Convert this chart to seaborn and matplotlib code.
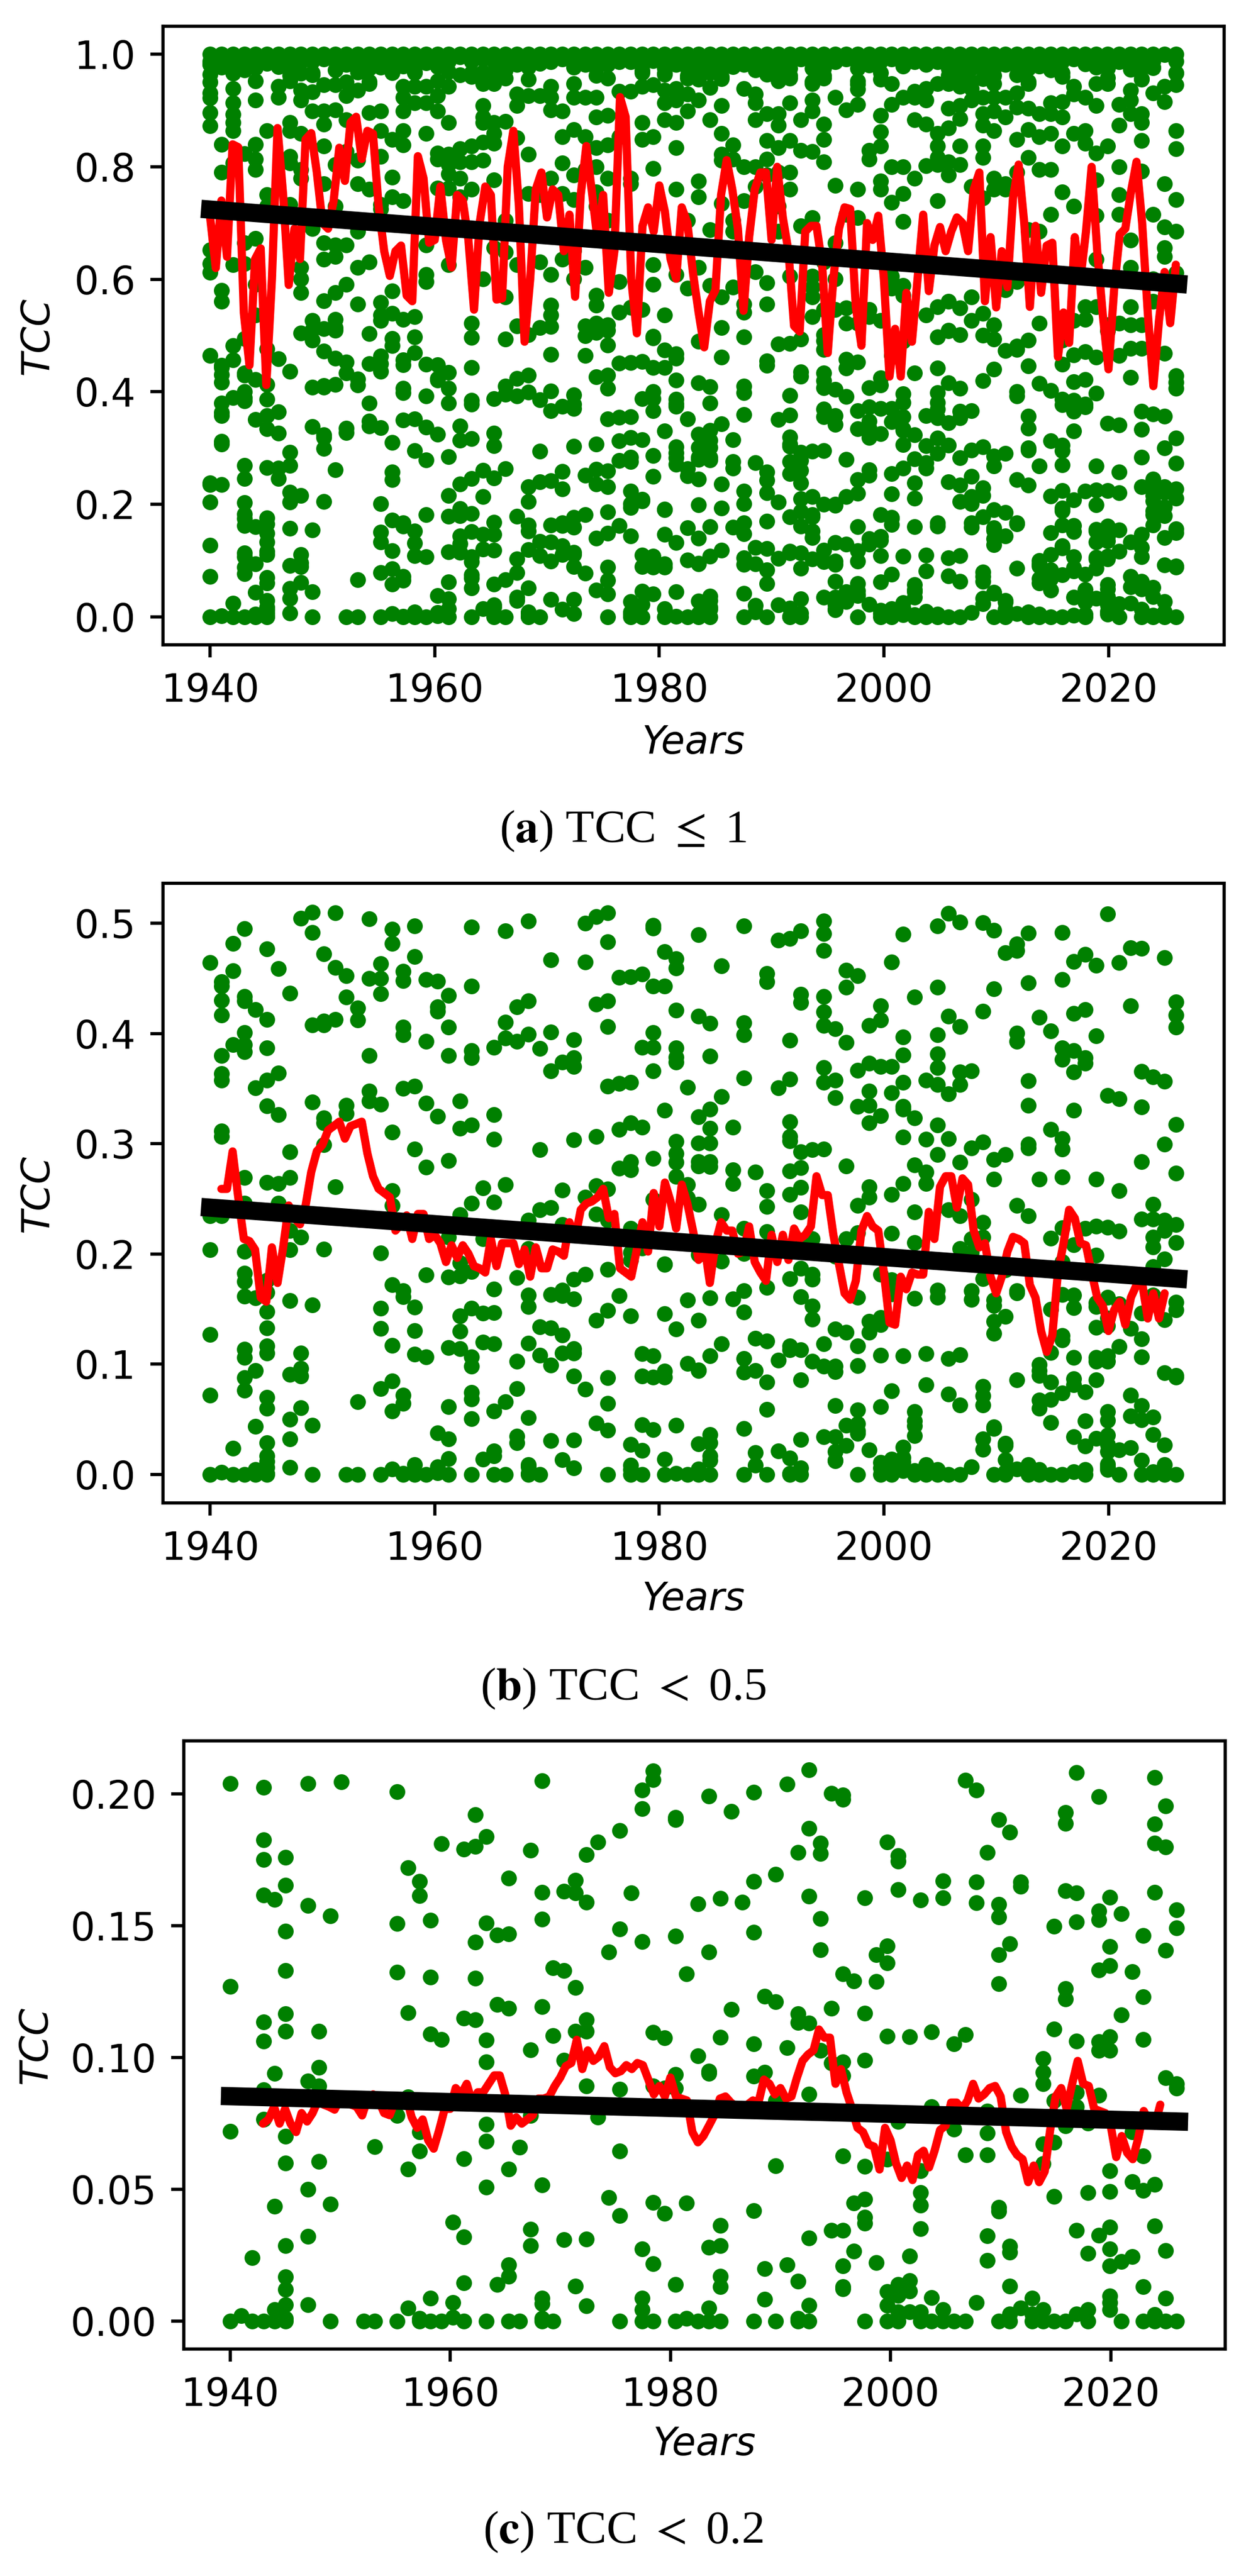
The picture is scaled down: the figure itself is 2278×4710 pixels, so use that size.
#!/usr/bin/env python3
"""
TCC scatter, smoothed curve and trend for three cloud cover ranges.
"""

import matplotlib

matplotlib.use("Agg")
import matplotlib.pyplot as plt
import numpy as np
import pandas as pd
import seaborn as sns

# one inner list per year column, 86 columns from 1940 to 2026
COLUMN_YEARS = np.linspace(1940, 2026, 86)

# values below about 0.21
LOW_TCC = [
    [.204, .127, .072, 0], [.002], [.024, 0],
    [.2025, .1825, .175, .1616, .1135, .1063, .0878, .0765, 0],
    [.160, .094, .0435, .0043, 0],
    [.176, .1654, .148, .133, .1165, .110, .070, .060, .0286, .0168, .012, .0062, .001, 0],
    [], [.204, .1576, .091, .050, .0322, .0063], [.110, .0963, .0892, .0606],
    [.1538, .0444, 0], [.2046], [], [0], [.0662, 0], [],
    [.2008, .1508, .1324, .078, 0], [.172, .117, .085, .0576, .005],
    [.1667, .1614, .0717, .0646, .001, 0], [.152, .1305, .1089, .0087, 0],
    [.181, .1068, 0], [.0375, .007, .0014], [.179, .115, .0616, .032, .0146, 0],
    [.192, .180, .1437, .130, .1143],
    [.1838, .151, .1067, .0983, .0746, .0683, .0508, 0], [.1464, .120, .0138],
    [.168, .1468, .1186, .0576, .0214, .017, 0], [.0659, 0],
    [.1786, .1029, .078, .0348, .0286],
    [.205, .1627, .1524, .1192, .0516, .0087, .0067, .001, 0], [.134, .1083, 0],
    [.163, .133, .099, .0308], [.1673, .1624, .1265, .110, .0132],
    [.177, .159, .1143, .110, .0892, .031, .0057], [.1817, .0773], [.140, .0468],
    [.186, .1487, .088, .0644, .04, 0], [.1624],
    [.2014, .1944, .144, .0273, .0086, .0043, 0],
    [.2086, .2054, .1095, .0892, .0451, .0217, 0], [.1075, .0884, .0408],
    [.1911, .1903, .146, .0935, .0884, .0138, 0], [.1317, .0448, .001],
    [.1583, .1006, 0], [.1992, .140, .0948, .094, .028, .005, 0],
    [.1603, .1076, .0363, .0286, .017, .013, 0], [.1933, .1183], [.159],
    [.2005, .1667, .1475, .1051, .0929, .0419, 0], [.1233, .0943, .0198, .0083],
    [.1695, .1211, .0836, .059, 0], [.2038, .1038, .0213],
    [.1778, .1165, .1133, .0151, .001, 0],
    [.2092, .187, .1611, .113, .086, .0316, .006, 0],
    [.1813, .1773, .1527, .1408, .1027], [.2002, .1186, .098, .0344],
    [.1995, .198, .1317, .0984, .0932, .0627, .0344, .021, .013, .0122],
    [.129, .0448, .0265], [.1605, .1168, .0989, .0586, .0463, .0395, .0371, 0],
    [.139, .1289, .0221], [.1817, .1422, .1359, .1081, .0614, .0111, .0059, 0],
    [.1765, .1744, .1637, .0757, .0138, .0098, .0035, 0],
    [.1078, .0246, .0154, .0114, .0035],
    [.1598, .0571, .0487, .044, .0351, .0035, 0], [.1098, .0813, .009, 0],
    [.167, .1606, .0043, 0], [.1051, .0729, 0], [.2051, .1086, .063, 0],
    [.2014, .1665, .1587, .007], [.1778, .0797, .0713, .063, .0324, .023],
    [.1902, .1581, .1532, .139, .1279, .0432, .0416, 0],
    [.1854, .1432, .0284, .0262, .0133, .0027, 0], [.1665, .1649, .0857, .005],
    [.0087, .0027, 0], [.0995, .0944, .09, .0673, .0598, .0043, 0],
    [.1497, .1108, .0836, .0678, .0473, 0],
    [.1929, .1887, .1633, .1262, .1222, .0741, 0],
    [.2081, .1625, .1514, .1063, .0868, .0813, .0344, .0027],
    [.075, .0487, .0257, .0043, 0],
    [.1989, .1556, .1522, .1332, .1059, .1027, .0857, .0325],
    [.1608, .1421, .1348, .1078, .1027, .0571, .0492, .0357, .0273, .021, .0095, .0071, .0043],
    [.1546, .1162, .0225, 0], [.1325, .0717, .0529, .0244],
    [.1463, .123, .1068, .0627, .0495, .013, 0],
    [.2062, .1886, .1814, .1627, .0519, .036, .0024, 0],
    [.1954, .1798, .1406, .0922, .0267, .0087, 0], [.156, .1492, .09, .0884, 0],
]

# values from about 0.21 to 0.51
MID_TCC = [
    [.4643, .238, .2345],
    [.4469, .443, .430, .4165, .380, .3634, .3577, .3115, .3065, .2345],
    [.4818, .457, .390], [.495, .4336, .4298, .4006, .390, .3835, .2693, .2458],
    [.4215, .3505], [.4765, .4127, .387, .3577, .3342, .2648],
    [.4586, .3642, .3262, .264, .2458], [.4366, .2925, .2693, .221],
    [.5045, .2155], [.5099, .4917, .4078, .338],
    [.4723, .411, .4078, .3236, .319, .299], [.5095, .460, .4127, .261],
    [.4526, .4329, .335, .3274], [.423, .412], [.5038, .450, .380, .3475, .3388],
    [.4632, .450, .436, .3357], [.4943, .4818, .3103, .2572, .244],
    [.4564, .448, .4059, .3987, .350], [.4973, .4696, .352, .295],
    [.4488, .3926, .3369, .2788], [.4476, .424, .4203, .3247],
    [.4347, .4059, .380, .2845, .2155], [.3388, .3141, .2356],
    [.4966, .4431, .3843, .3782, .3168, .2458], [.2599, .2136],
    [.3873, .3266, .3039, .247], [.4932, .4101, .3957, .2629], [.4241, .393],
    [.5019, .4298, .3995, .2307], [.3862, .2944, .2401],
    [.4666, .4014, .3661, .242], [.374, .258, .2268],
    [.3942, .3778, .3699, .3035], [.50, .4647, .2515],
    [.5057, .4268, .3065, .2618, .2363], [.5095, .4829, .4298, .4063, .352, .2591, .2307],
    [.4507, .3547, .313, .278], [.4514, .3558, .3187, .2838, .2762, .223],
    [.4537, .3873, .3149], [.4981, .4954, .4431, .4006, .3873, .3661, .2868, .2496],
    [.4742, .4431, .3304],
    [.4677, .4592, .4211, .3869, .3786, .374, .3023, .2913, .283, .2705],
    [.3513, .2629, .2508], [.4897, .4158, .3244, .3008, .2838, .28, .2451],
    [.409, .3797, .3312, .3141, .3008, .2838, .2792], [.4613, .3426, .2356],
    [.3149, .2762, .2637], [.4973, .4097, .3987, .3596, .2231], [.2743],
    [.4545, .4469, .2572, .2428, .22], [.4848, .3509],
    [.486, .3938, .3585, .3198, .3065, .3027, .2754, .2542],
    [.4932, .4355, .4279, .2925, .2781, .2602, .2382], [.2944, .2136],
    [.5019, .4905, .4753, .4336, .4196, .4071, .3691, .3558, .2951],
    [.4044, .3577, .3418], [.4575, .442, .3919, .28, .2136],
    [.4526, .3665, .3338, .2439, .2193], [.4071, .3729, .3479, .335, .3187, .261, .2515],
    [.4249, .4124, .3699, .3255], [.4647, .3699, .3464, .2542, .2185],
    [.4901, .3968, .3805, .3558, .3338, .3312, .3058, .2637],
    [.4329, .3236, .2807, .2382, .2105], [.3577, .3039, .2743, .2637],
    [.4977, .442, .3987, .3813, .3691, .3539, .3172, .2902],
    [.5087, .4158, .3452, .3046, .2401], [.5011, .4063, .3653, .3539, .283, .2344],
    [.3661, .2963, .2496, .2136], [.5004, .42, .3016, .2288, .2155],
    [.4936, .4404, .2857, .2678], [.4731, .2902], [.481, .4753, .4002, .393, .2439],
    [.4913, .4458, .357, .335, .2997, .2963, .2344], [.4146, .2678],
    [.4025, .313, .2143], [.4917, .4488, .387, .3767, .3046, .2951, .2697, .2238],
    [.4651, .418, .3843, .3653, .3304], [.4715, .4218, .3778, .3729, .2231],
    [.462, .3976, .2678, .225], [.5083, .3437, .2242], [.4643, .3407, .2572, .2208],
    [.4776, .4253], [.4772, .3657, .3331, .2838, .2314], [.3604, .2451, .2318, .2155],
    [.4685, .3566, .2997, .2307, .2212],
    [.4287, .4165, .4059, .3175, .2731, .2269, .2105],
]

# values above about 0.51
HIGH_TCC = [
    [1.0, .983, .964, .951, .931, .923, .896, .873, .652, .628, .612],
    [1.0, .99, .84, .79, .58, .561],
    [1.0, .985, .966, .939, .914, .893, .879, .864, .807, .626],
    [1.0, .983, .823, .665, .628],
    [1.0, .976, .953, .919, .84, .814, .795, .673, .591, .536],
    [1.0, .985, .864, .75, .73], [1.0, .978, .943, .924],
    [1.0, .981, .953, .879, .864, .819, .807, .733],
    [1.0, .966, .936, .919, .859, .795, .78, .621, .601, .576],
    [1.0, .963, .933, .899, .69, .527],
    [1.0, .946, .899, .876, .837, .77, .665, .636, .562, .512],
    [1.0, .946, .901, .804, .73, .661, .641, .576, .529, .514],
    [1.0, .951, .926, .884, .827, .661, .591],
    [1.0, .968, .936, .812, .77, .685, .621, .556],
    [1.0, .948, .896, .76, .631],
    [1.0, .899, .864, .819, .733, .725, .559, .536, .527],
    [1.0, .978, .849, .782, .747, .579, .539],
    [1.0, .943, .924, .899, .864, .839, .74, .529],
    [1.0, .968, .943, .914, .534],
    [1.0, .985, .943, .914, .859, .661, .608, .596],
    [1.0, .978, .953, .926, .899, .824, .814, .762],
    [1.0, .943, .879, .822, .804, .787, .762, .626],
    [1.0, .963, .832, .809, .78, .747],
    [1.0, .961, .837, .809, .76, .522],
    [1.0, .968, .948, .909, .889, .879, .844, .812, .601],
    [1.0, .948, .879, .859, .842, .777, .656],
    [1.0, .958, .881, .705, .648, .569],
    [1.0, .929, .909, .852, .626, .517],
    [1.0, .956, .926, .822, .752],
    [1.0, .926, .75, .631, .514],
    [1.0, .943, .924, .901, .78, .608, .554, .536, .516],
    [1.0, .899, .854, .807, .752, .636],
    [1.0, .948, .924, .866, .785, .742, .651, .601],
    [1.0, .924, .854, .795, .621, .517],
    [1.0, .924, .889, .834, .8, .755, .73, .571, .554, .522],
    [1.0, .958, .891, .839, .78, .705, .519],
    [1.0, .934, .854, .596, .541],
    [1.0, .934, .78, .77, .55],
    [1.0, .971, .943, .879, .849, .546],
    [1.0, .946, .854, .797, .626, .591],
    [1.0, .966, .936, .914, .884, .536],
    [1.0, .939, .919, .879, .834, .76, .608],
    [1.0, .958, .929, .899, .705, .584],
    [1.0, .956, .919, .775, .747, .621],
    [1.0, .941, .884, .688, .589],
    [1.0, .961, .909, .859, .822, .812, .735, .569, .514],
    [1.0, .978, .839, .814, .705, .685, .586],
    [1.0, .939, .8, .74, .556, .541],
    [1.0, .929, .914, .884, .8, .765, .613],
    [1.0, .968, .894, .847, .814, .785, .594, .556],
    [1.0, .953, .894, .874, .834, .79, .73, .685],
    [1.0, .958, .914, .847, .79, .76, .606],
    [1.0, .884, .829, .695],
    [1.0, .948, .919, .899, .827, .71, .606, .586, .569, .534],
    [1.0, .958, .876, .849, .809, .631, .546],
    [1.0, .924, .767, .665, .601, .546],
    [1.0, .901, .715, .549, .522],
    [1.0, .953, .938, .911, .76, .71, .522],
    [1.0, .981, .829, .814, .546, .534],
    [1.0, .956, .891, .862, .837, .775, .76, .527],
    [1.0, .948, .911, .8, .737, .606, .584],
    [1.0, .924, .8, .752, .703, .589, .571],
    [1.0, .934, .924, .884, .78],
    [1.0, .939, .919, .876, .802, .536],
    [1.0, .948, .859, .837, .817, .804, .74, .551],
    [1.0, .948, .904, .869, .809, .785, .561, .509],
    [1.0, .943, .909, .886, .837, .804, .549],
    [1.0, .939, .919, .765, .569, .527],
    [1.0, .924, .894, .874, .837, .817, .745, .539],
    [1.0, .948, .924, .899, .864, .78, .76, .519],
    [1.0, .924, .889, .77, .76, .581],
    [1.0, .963, .931, .906, .849, .79, .596],
    [1.0, .948, .904, .866, .817, .688],
    [1.0, .894, .854, .795, .685, .522],
    [1.0, .914, .894, .859, .795, .715],
    [1.0, .961, .916, .889, .837, .755],
    [1.0, .943, .929, .859, .73, .527],
    [1.0, .983, .924, .864, .842, .551, .529],
    [1.0, .948, .909, .824, .777, .713, .636, .551],
    [1.0, .948, .837, .519],
    [1.0, .911, .874, .8, .75, .715, .522],
    [1.0, .973, .936, .919, .894, .67, .621, .551, .519],
    [1.0, .956, .894, .879, .847, .792, .519],
    [1.0, .976, .931, .715, .601, .561],
    [1.0, .943, .916, .77, .693, .656, .641],
    [1.0, .966, .946, .864, .832, .742, .685, .611],
]

# solid band just under 1.0 in the top panel, lower edge differs per column
TOP_BAND_TCC = [
    [.988, .982], [.988, .977], [.988, .978], [.988, .972], [.988, .977], [.988, .984],
    [.988, .982], [.988, .975, .962], [.987], [.988, .967], [.992], [.988, .972],
    [.988, .982], [.988, .984], [.988, .975, .952], [.988, .977], [.988, .967], [.988, .979],
    [.988, .967], [.992], [.988, .984], [.988, .969], [.996], [.988, .967],
    [.992], [.988, .967], [.988, .972], [.988, .982], [.988, .977], [.988, .984],
    [.987], [.992], [.988, .977], [.988, .982], [.988, .975, .962], [.988, .982],
    [.987], [.987], [.988, .967], [.989], [.988, .975, .964], [.988, .982],
    [.988, .975, .962], [.988, .975, .959], [.988, .967], [.988, .975, .957], [.992], [.988, .982],
    [.988, .972], [.988, .975, .964], [.988, .975, .957], [.988, .975, .962], [.992], [.988, .975, .952],
    [.988, .975, .962], [.987], [.992], [.988, .975, .947], [.989], [.988, .967],
    [.992], [.988, .979], [.987], [.988, .982], [.987], [.988, .975, .962],
    [.988, .975, .962], [.988, .975, .952], [.988, .975, .957], [.988, .975, .962], [.988, .982], [.988, .979],
    [.988, .975, .952], [.988, .979], [.988, .972], [.988, .967], [.992], [.994],
    [.988, .977], [.988, .975, .959], [.987], [.988, .979], [.988, .975, .957], [.988, .977],
    [.999], [.988, .967],
]

# smoothed curves, read every half year
SMOOTH_A_START = 1940.0
SMOOTH_A = [
    .71, .62, .74, .64, .84, .835, .54, .447, .636, .655, .412, .60, .869, .75, .59, .69,
    .636, .849, .86, .79, .70, .69, .74, .834, .775, .879, .889, .814, .864, .859, .73, .65,
    .606, .65, .66, .571, .561, .819, .78, .665, .67, .765, .67, .621, .75, .74, .67, .546,
    .70, .765, .75, .564, .566, .80, .864, .73, .489, .60, .76, .79, .71, .76, .75, .65,
    .715, .569, .75, .837, .755, .67, .75, .576, .65, .924, .889, .601, .504, .695, .728, .685,
    .767, .72, .636, .601, .728, .70, .611, .541, .479, .561, .581, .75, .812, .76, .69, .544,
    .675, .76, .79, .79, .67, .80, .71, .65, .517, .507, .685, .695, .695, .626, .469, .601,
    .69, .728, .725, .551, .482, .70, .67, .713, .601, .427, .512, .427, .576, .489, .601, .715,
    .579, .66, .693, .65, .685, .71, .70, .65, .76, .79, .561, .675, .55, .65, .586, .745,
    .804, .70, .551, .695, .576, .66, .665, .462, .541, .487, .675, .60, .685, .80, .65, .536,
    .44, .581, .68, .69, .755, .809, .70, .541, .41, .527, .613, .522, .626,
]
SMOOTH_B_START = 1941.0
SMOOTH_B = [
    .259, .259, .293, .2515, .2136, .2117, .204, .1605, .1567, .206, .1737, .206, .244, .2325,
    .2269, .244, .2743, .2932, .299, .3122, .316, .32, .3046, .316, .3179, .32, .2913, .2705,
    .2591, .2553, .2515, .2212, .2269, .235, .2136, .2363, .2363, .2136, .2174, .2098, .1927,
    .2079, .1965, .2079, .2003, .1889, .187, .1832, .2136, .1889, .2098, .2098, .2098, .1908,
    .2041, .1794, .206, .187, .187, .2041, .2022, .1984, .2288, .2136, .2401, .2458, .2477,
    .2515, .2591, .2325, .2363, .187, .1832, .1794, .2041, .2288, .2022, .2553, .225, .2648,
    .2477, .2231, .2629, .2458, .2212, .1946, .2098, .1737, .2098, .2288, .2212, .2212, .2003,
    .2022, .225, .1927, .1832, .1756, .2174, .1927, .2174, .1946, .2231, .2136, .2174, .225,
    .2705, .2534, .2534, .2174, .1908, .1643, .1586, .1756, .2212, .2344, .225, .2212, .1832,
    .1377, .1358, .1794, .168, .1832, .1813, .1813, .2382, .2136, .261, .2705, .2705, .242,
    .2686, .2629, .2212, .206, .2098, .1794, .1643, .1794, .2022, .2155, .2136, .2098, .1719,
    .1605, .1301, .1112, .1263, .1832, .2098, .2401, .2325, .2098, .2079, .1832, .1605, .1529,
    .1301, .1491, .1567, .1358, .1605, .1719, .1737, .1415, .1643, .1415, .1643,
]
SMOOTH_C_START = 1943.0
SMOOTH_C = [
    .0749, .0765, .0813, .0749, .0805, .0749, .0717, .0789, .0757, .0789, .0837, .0821, .0813,
    .0802, .0844, .0837, .0821, .0813, .078, .0844, .086, .0837, .0789, .0781, .0837, .0844,
    .0852, .0773, .0733, .0765, .0686, .0654, .0725, .0805, .0805, .0884, .086, .09, .0829,
    .0868, .0868, .09, .0932, .0932, .086, .0741, .0773, .0749, .0765, .0781, .0844, .0844,
    .0852, .0892, .0924, .0967, .0979, .1067, .0956, .1027, .0987, .1003, .1043, .0963, .094,
    .0948, .0971, .0956, .0979, .0971, .0916, .086, .0892, .0852, .0924, .0852, .0844, .0837,
    .0717, .0678, .0702, .0741, .0781, .0844, .0852, .0829, .0813, .0813, .0821, .0837, .0829,
    .0916, .09, .086, .0884, .0844, .0852, .0924, .0987, .1011, .1027, .1106, .1075, .1075,
    .09, .0956, .0868, .0805, .0733, .0717, .067, .0662, .0575, .0733, .0686, .0598, .0543,
    .059, .0535, .063, .0646, .0583, .0646, .0725, .0741, .0829, .0829, .0805, .0837, .09,
    .0844, .086, .0884, .0892, .0852, .0717, .0662, .063, .0614, .0527, .059, .0527, .0567,
    .0725, .0852, .0884, .0805, .09, .0987, .09, .0892, .0805, .0797, .0789, .0741, .0622,
    .0702, .0638, .0614, .0694, .0797, .0757, .0741, .0821,
]

TREND_YEARS = [1940.0, 2026.2]
TREND_A = [.724, .592]
TREND_B = [.242, .1776]
TREND_C = [.0853, .0757]

TICK_YEARS = [1940, 1960, 1980, 2000, 2020]
TICKS_A = [0.0, 0.2, 0.4, 0.6, 0.8, 1.0]
TICKS_B = [0.0, 0.1, 0.2, 0.3, 0.4, 0.5]
TICKS_C = [0.00, 0.05, 0.10, 0.15, 0.20]

FIG_W, FIG_H = 2278, 4710
DPI = 300


def long_table(*tables):
    years, values = [], []
    for table in tables:
        for year, column in zip(COLUMN_YEARS, table):
            years.extend([year] * len(column))
            values.extend(column)
    return pd.DataFrame({"year": years, "tcc": values})


def add_panel(fig, box, points, smooth_start, smooth, trend, yticks, yfmt, xlim, ylim, ylab_x, xlab_top):
    left, right, top, bottom = box
    ax = fig.add_axes([left / FIG_W, 1 - bottom / FIG_H, (right - left) / FIG_W, (bottom - top) / FIG_H])
    smooth_years = smooth_start + 0.5 * np.arange(len(smooth))

    sns.scatterplot(data=points, x="year", y="tcc", color="green", s=48, linewidth=0, ax=ax, zorder=2)
    sns.lineplot(x=smooth_years, y=smooth, color="red", linewidth=3.6, estimator=None, sort=False, ax=ax, zorder=3)
    line = sns.lineplot(x=TREND_YEARS, y=trend, color="black", linewidth=8, estimator=None, sort=False, ax=ax, zorder=4)
    line.lines[-1].set_solid_capstyle("projecting")

    ax.set_xlim(*xlim)
    ax.set_ylim(*ylim)
    ax.set_xticks(TICK_YEARS)
    ax.set_yticks(yticks)
    ax.set_yticklabels([yfmt.format(v) for v in yticks])
    ax.tick_params(length=5.5, width=1.4, pad=6.5, labelsize=17)
    for spine in ax.spines.values():
        spine.set_linewidth(1.4)

    ax.set_xlabel("Years", fontsize=17, fontstyle="italic")
    ax.set_ylabel("TCC", fontsize=17, fontstyle="italic")
    ax.xaxis.set_label_coords(0.5, -(xlab_top - bottom) / (bottom - top))
    ax.yaxis.set_label_coords((ylab_x - left) / (right - left), 0.5)
    return ax


def add_caption(fig, y_px, letter, rest):
    fig.text(1139 / FIG_W, 1 - y_px / FIG_H, "($\\mathbf{" + letter + "}$) " + rest,
             ha="center", va="baseline", family="Liberation Serif", fontsize=20.5)


def main():
    sns.set_style("ticks", {
        "axes.edgecolor": "black",
        "xtick.color": "black",
        "ytick.color": "black",
        "text.color": "black",
        "axes.labelcolor": "black",
    })
    plt.rcParams["font.family"] = ["DejaVu Sans"]
    plt.rcParams["mathtext.fontset"] = "stix"

    fig = plt.figure(figsize=(FIG_W / DPI, FIG_H / DPI), dpi=DPI)

    add_panel(fig, (298, 2238, 48, 1179), long_table(LOW_TCC, MID_TCC, HIGH_TCC, TOP_BAND_TCC),
              SMOOTH_A_START, SMOOTH_A, TREND_A, TICKS_A, "{:.1f}",
              (1935.8, 2030.3), (-0.05, 1.05), 103, 1324)
    add_panel(fig, (298, 2238, 1615, 2748), long_table(LOW_TCC, MID_TCC),
              SMOOTH_B_START, SMOOTH_B, TREND_B, TICKS_B, "{:.1f}",
              (1935.8, 2030.3), (-0.0258, 0.5362), 103, 2890)
    add_panel(fig, (336, 2240, 3183, 4295), long_table(LOW_TCC),
              SMOOTH_C_START, SMOOTH_C, TREND_C, TICKS_C, "{:.2f}",
              (1935.8, 2030.4), (-0.0106, 0.2201), 100, 4435)

    add_caption(fig, 1540, "a", "TCC $\\leq$ 1")
    add_caption(fig, 3108, "b", "TCC $<$ 0.5")
    add_caption(fig, 4650, "c", "TCC $<$ 0.2")

    fig.savefig("out.png", dpi=DPI)
    plt.close(fig)


if __name__ == "__main__":
    main()
